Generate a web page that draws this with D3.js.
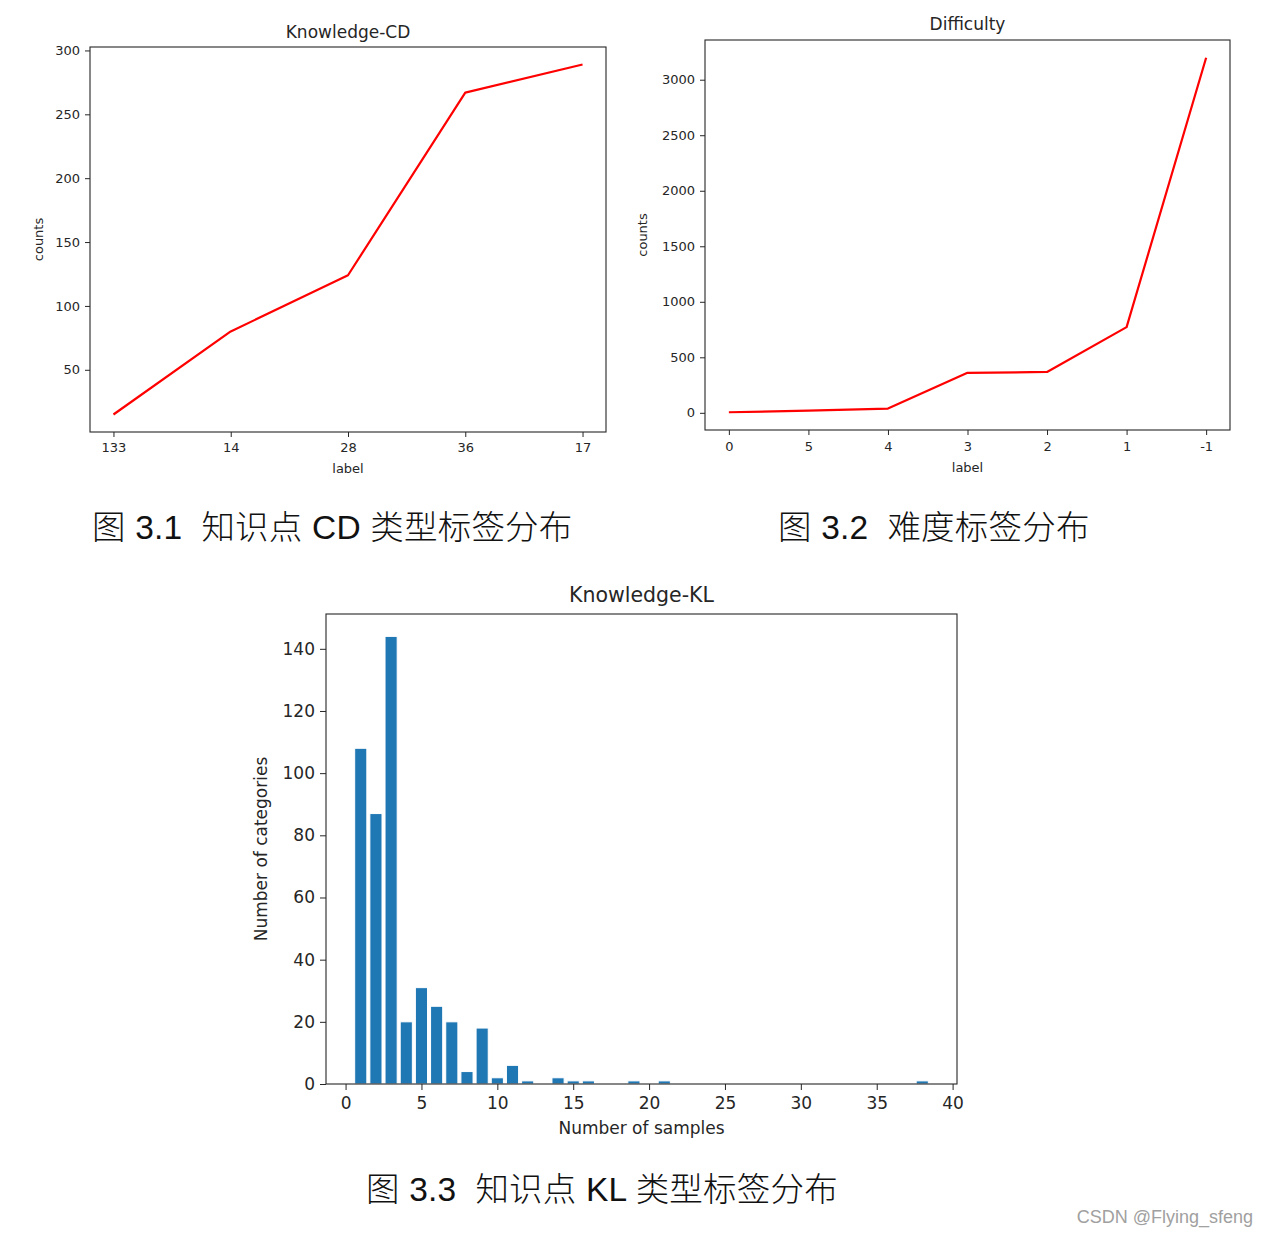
<!DOCTYPE html>
<html>
<head>
<meta charset="utf-8">
<script src="https://cdn.jsdelivr.net/npm/d3@7/dist/d3.min.js"></script>
<style>
  html, body { margin: 0; padding: 0; background: #fff; }
  svg { display: block; }
</style>
</head>
<body>
<svg id="fig" width="1268" height="1236"></svg>
<script>
// ---- data ----
const cdLabels = ["133", "14", "28", "36", "17"];
const cdCounts = [15, 80, 124, 267, 289];
const cdYTicks = [50, 100, 150, 200, 250, 300];

const diffLabels = ["0", "5", "4", "3", "2", "1", "-1"];
const diffCounts = [5, 20, 38, 360, 368, 772, 3198];
const diffYTicks = [0, 500, 1000, 1500, 2000, 2500, 3000];

const klSamples = [1, 2, 3, 4, 5, 6, 7, 8, 9, 10, 11, 12, 14, 15, 16, 19, 21, 38];
const klCategories = [108, 87, 144, 20, 31, 25, 20, 4, 18, 2, 6, 1, 2, 1, 1, 1, 1, 1];
const klXTicks = [0, 5, 10, 15, 20, 25, 30, 35, 40];
const klYTicks = [0, 20, 40, 60, 80, 100, 120, 140];

const captions = [
  { text: "图 3.1  知识点 CD 类型标签分布", x: 92, y: 527 },
  { text: "图 3.2  难度标签分布", x: 778, y: 527 },
  { text: "图 3.3  知识点 KL 类型标签分布", x: 366, y: 1189 }
];
const watermark = "CSDN @Flying_sfeng";

// ---- drawing ----
const svg = d3.select("#fig");
const FONT = "'DejaVu Sans', sans-serif";
const INK = "#262626";

function padDomain(min, max, frac) {
  const r = max - min;
  return [min - r * frac, max + r * frac];
}

function styleAxis(g, fs) {
  g.attr("font-size", null).attr("font-family", null);
  g.selectAll("path.domain").remove();
  g.selectAll(".tick line").attr("stroke", INK).attr("stroke-width", 1);
  g.selectAll(".tick text").attr("fill", INK).style("font-family", FONT).style("font-size", fs + "px");
}

function frame(box) {
  svg.append("rect")
    .attr("x", box.x0).attr("y", box.y0)
    .attr("width", box.x1 - box.x0).attr("height", box.y1 - box.y0)
    .attr("fill", "none").attr("stroke", INK).attr("stroke-width", 1.1);
}

function lineChart(opt) {
  const box = opt.box;
  const n = opt.labels.length;
  const x = d3.scaleLinear().domain(padDomain(0, n - 1, 0.05)).range([box.x0, box.x1]);
  const y = d3.scaleLinear()
    .domain(padDomain(d3.min(opt.values), d3.max(opt.values), 0.05))
    .range([box.y1, box.y0]);

  const gx = svg.append("g").attr("transform", `translate(0,${box.y1})`)
    .call(d3.axisBottom(x).tickValues(d3.range(n)).tickFormat(i => opt.labels[i])
      .tickSize(5).tickPadding(opt.xPad));
  styleAxis(gx, opt.fs);
  const gy = svg.append("g").attr("transform", `translate(${box.x0},0)`)
    .call(d3.axisLeft(y).tickValues(opt.yTicks).tickFormat(d3.format("d"))
      .tickSize(5).tickPadding(5));
  styleAxis(gy, opt.fs);

  svg.append("path")
    .datum(opt.values)
    .attr("d", d3.line().x((d, i) => x(i)).y(d => y(d)))
    .attr("fill", "none").attr("stroke", "#f00").attr("stroke-width", 2.2)
    .attr("stroke-linejoin", "round");

  frame(box);

  svg.append("text").attr("x", (box.x0 + box.x1) / 2).attr("y", opt.titleY)
    .attr("text-anchor", "middle").attr("dominant-baseline", "central")
    .style("font-family", FONT).style("font-size", opt.titleFs + "px").attr("fill", INK)
    .text(opt.title);
  svg.append("text").attr("x", (box.x0 + box.x1) / 2).attr("y", opt.xLabelY)
    .attr("text-anchor", "middle").attr("dominant-baseline", "central")
    .style("font-family", FONT).style("font-size", opt.fs + "px").attr("fill", INK)
    .text("label");
  svg.append("text")
    .attr("transform", `translate(${opt.yLabelX},${(box.y0 + box.y1) / 2}) rotate(-90)`)
    .attr("text-anchor", "middle").attr("dominant-baseline", "central")
    .style("font-family", FONT).style("font-size", opt.fs + "px").attr("fill", INK)
    .text("counts");
}

lineChart({
  box: { x0: 90, x1: 606, y0: 47, y1: 432 },
  labels: cdLabels, values: cdCounts, yTicks: cdYTicks,
  title: "Knowledge-CD", titleY: 32, xLabelY: 468, yLabelX: 38,
  fs: 13, titleFs: 17, xPad: 6
});

lineChart({
  box: { x0: 705, x1: 1230, y0: 40, y1: 430 },
  labels: diffLabels, values: diffCounts, yTicks: diffYTicks,
  title: "Difficulty", titleY: 24, xLabelY: 467, yLabelX: 642,
  fs: 13, titleFs: 17, xPad: 7
});

// ---- bar chart ----
(function () {
  const box = { x0: 326, x1: 957, y0: 614, y1: 1084 };
  const w = 0.8;
  const x = d3.scaleLinear()
    .domain(padDomain(d3.min(klSamples) - w / 2, d3.max(klSamples) + w / 2, 0.05))
    .range([box.x0, box.x1]);
  const y = d3.scaleLinear().domain([0, d3.max(klCategories) * 1.05]).range([box.y1, box.y0]);
  const fs = 17;

  svg.append("g").selectAll("rect")
    .data(klSamples.map((s, i) => ({ s, v: klCategories[i] })))
    .join("rect")
    .attr("x", d => x(d.s - w / 2))
    .attr("width", d => x(d.s + w / 2) - x(d.s - w / 2))
    .attr("y", d => y(d.v))
    .attr("height", d => y(0) - y(d.v))
    .attr("fill", "#1f77b4").attr("stroke", "#fff").attr("stroke-width", 1);

  const gx = svg.append("g").attr("transform", `translate(0,${box.y1})`)
    .call(d3.axisBottom(x).tickValues(klXTicks).tickSize(6).tickPadding(7));
  styleAxis(gx, fs);
  const gy = svg.append("g").attr("transform", `translate(${box.x0},0)`)
    .call(d3.axisLeft(y).tickValues(klYTicks).tickSize(6).tickPadding(5));
  styleAxis(gy, fs);

  frame(box);

  svg.append("text").attr("x", (box.x0 + box.x1) / 2).attr("y", 595)
    .attr("text-anchor", "middle").attr("dominant-baseline", "central")
    .style("font-family", FONT).style("font-size", "20.5px").attr("fill", INK)
    .text("Knowledge-KL");
  svg.append("text").attr("x", (box.x0 + box.x1) / 2).attr("y", 1128)
    .attr("text-anchor", "middle").attr("dominant-baseline", "central")
    .style("font-family", FONT).style("font-size", fs + "px").attr("fill", INK)
    .text("Number of samples");
  svg.append("text")
    .attr("transform", `translate(261,${(box.y0 + box.y1) / 2}) rotate(-90)`)
    .attr("text-anchor", "middle").attr("dominant-baseline", "central")
    .style("font-family", FONT).style("font-size", fs + "px").attr("fill", INK)
    .text("Number of categories");
})();

// ---- captions ----
svg.selectAll("text.caption").data(captions).join("text")
  .attr("class", "caption")
  .attr("x", d => d.x).attr("y", d => d.y)
  .attr("dominant-baseline", "central")
  .style("font-family", "'Liberation Sans', 'Noto Sans CJK SC', sans-serif")
  .style("font-size", "33.5px").style("font-weight", 300)
  .style("letter-spacing", "0.2px")
  .attr("fill", "#111")
  .style("white-space", "pre")
  .attr("xml:space", "preserve")
  .text(d => d.text);

svg.append("text").attr("x", 1253).attr("y", 1217)
  .attr("text-anchor", "end").attr("dominant-baseline", "central")
  .style("font-family", "'Liberation Sans', sans-serif").style("font-size", "18px")
  .attr("fill", "#a0a0a0")
  .text(watermark);
</script>
</body>
</html>
